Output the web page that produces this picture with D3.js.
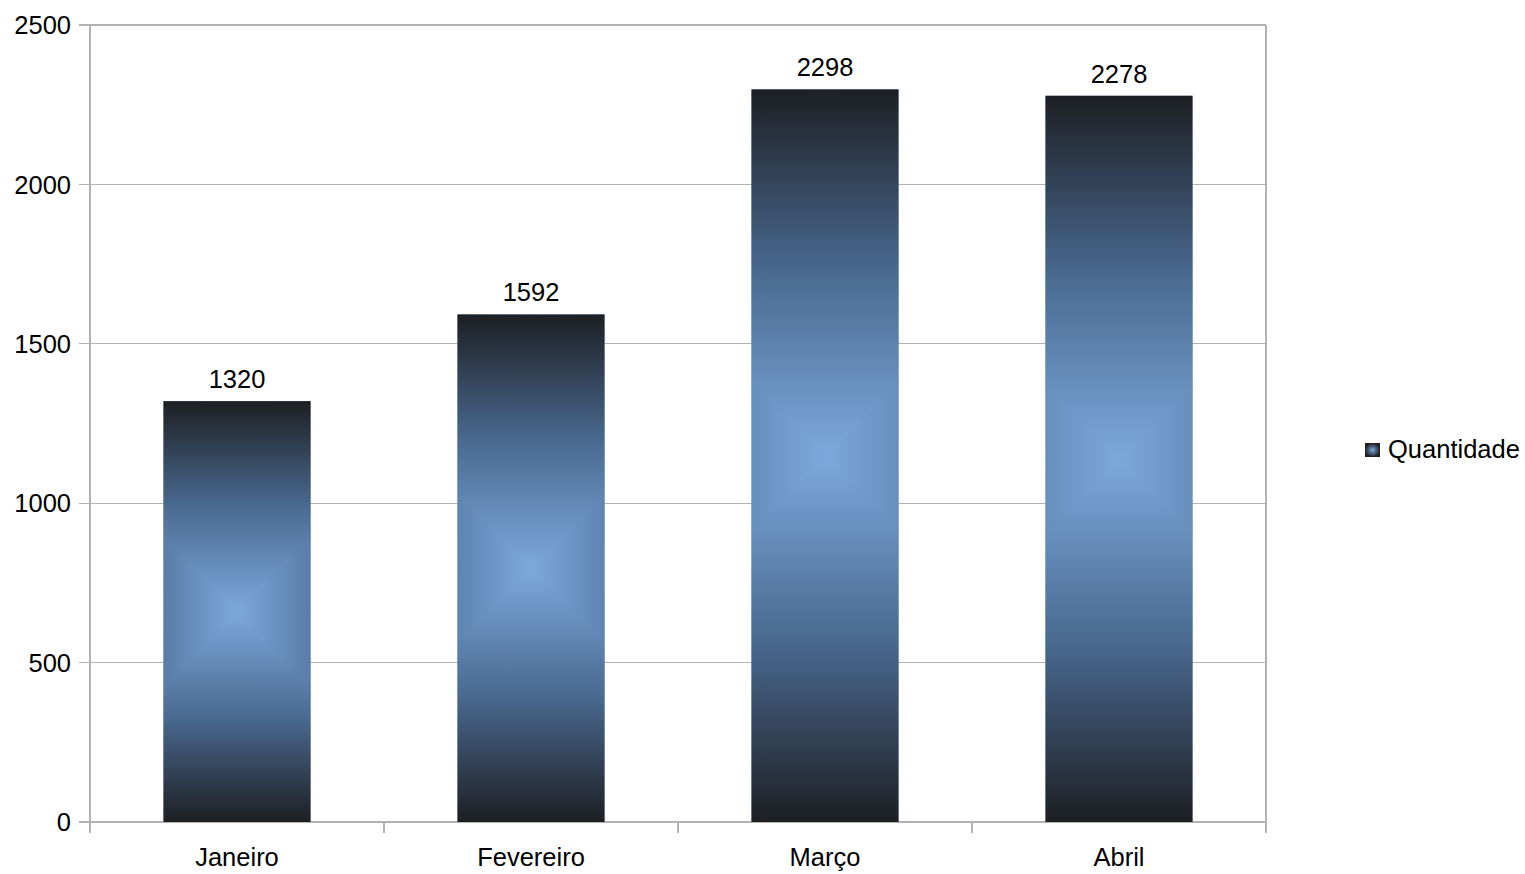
<!DOCTYPE html>
<html><head><meta charset="utf-8">
<script src="https://cdn.jsdelivr.net/npm/d3@7"></script>
<style>html,body{margin:0;padding:0;background:#fff;}svg{display:block;font-family:"Liberation Sans",Arial,sans-serif;}</style>
</head><body>
<svg id="c" width="1525" height="874"></svg>
<script>
const categories = ["Janeiro","Fevereiro","Março","Abril"];
const values = [1320,1592,2298,2278];
const yTicks = [0,500,1000,1500,2000,2500];
const seriesName = "Quantidade";

const svg = d3.select("#c");
const m = {l:90, r:1266, t:25, b:822};
const x = d3.scaleBand().domain(categories).range([m.l, m.r]).paddingInner(0.5).paddingOuter(0.25);
const y = d3.scaleLinear().domain([0,2500]).range([m.b, m.t]);
const grid = "#b3b3b3";
const light = "#7ba8db", mid = "#4a6a91", dark = "#1d1f23";
const fs = 25.5;

// gridlines
svg.append("g").selectAll("line").data(yTicks).join("line")
  .attr("x1", m.l-11).attr("x2", m.r).attr("y1", d=>y(d)).attr("y2", d=>y(d))
  .attr("stroke", grid).attr("stroke-width",1.2).attr("shape-rendering","crispEdges");
// left axis
svg.append("line").attr("x1",m.l).attr("x2",m.l).attr("y1",m.t).attr("y2",m.b+11).attr("stroke",grid).attr("stroke-width",1.2).attr("shape-rendering","crispEdges");
// category boundary ticks & right border
const bounds = d3.range(categories.length+1).map(i=>m.l + i*(m.r-m.l)/categories.length);
svg.append("g").selectAll("line").data(bounds).join("line")
  .attr("x1",d=>d).attr("x2",d=>d).attr("y1",(d,i)=> i===categories.length? m.t : m.b).attr("y2",m.b+11)
  .attr("stroke",grid).attr("stroke-width",(d,i)=> i===categories.length?2:1.2).attr("shape-rendering","crispEdges");

// y tick labels
svg.append("g").selectAll("text").data(yTicks).join("text")
  .attr("x", m.l-19).attr("y", d=>y(d)).attr("dy","0.36em").attr("text-anchor","end")
  .attr("font-size",fs).attr("fill","#000").text(d=>d);
// x labels
svg.append("g").selectAll("text").data(categories).join("text")
  .attr("x", d=>x(d)+x.bandwidth()/2).attr("y", 866).attr("text-anchor","middle")
  .attr("font-size",fs).attr("fill","#000").text(d=>d);

const defs = svg.append("defs");
function stops(gr){
  gr.append("stop").attr("offset",0).attr("stop-color",dark);
  gr.append("stop").attr("offset",0.25).attr("stop-color",mid);
  gr.append("stop").attr("offset",0.5).attr("stop-color",light);
  gr.append("stop").attr("offset",0.75).attr("stop-color",mid);
  gr.append("stop").attr("offset",1).attr("stop-color",dark);
}
const vg = defs.append("linearGradient").attr("id","vg").attr("x1",0).attr("x2",0).attr("y1",0).attr("y2",1);
stops(vg);

const bars = svg.append("g").selectAll("g").data(values).join("g").style("isolation","isolate");
bars.each(function(v,i){
  const g = d3.select(this);
  const bx = x(categories[i]), bw = x.bandwidth(), by = y(v), bh = y(0)-y(v);
  const cx = bx + bw/2;
  const hg = defs.append("linearGradient").attr("id","hg"+i).attr("gradientUnits","userSpaceOnUse")
    .attr("x1",cx-bh/2).attr("x2",cx+bh/2).attr("y1",0).attr("y2",0);
  stops(hg);
  g.append("rect").attr("x",bx).attr("y",by).attr("width",bw).attr("height",bh).attr("fill","url(#vg)");
  g.append("rect").attr("x",bx).attr("y",by).attr("width",bw).attr("height",bh).attr("fill","url(#hg"+i+")").style("mix-blend-mode","darken");
});

// value labels
svg.append("g").selectAll("text").data(values).join("text")
  .attr("x",(d,i)=>x(categories[i])+x.bandwidth()/2).attr("y",d=>y(d)-13).attr("text-anchor","middle")
  .attr("font-size",fs).attr("fill","#000").text(d=>d);

// legend
const lg = defs.append("radialGradient").attr("id","lgG");
lg.append("stop").attr("offset",0).attr("stop-color",light);
lg.append("stop").attr("offset",1).attr("stop-color",dark);
svg.append("rect").attr("x",1365).attr("y",443).attr("width",15).attr("height",14).attr("fill","url(#lgG)");
svg.append("text").attr("x",1388).attr("y",458).attr("font-size",fs).attr("fill","#000").text(seriesName);
</script>
</body></html>
